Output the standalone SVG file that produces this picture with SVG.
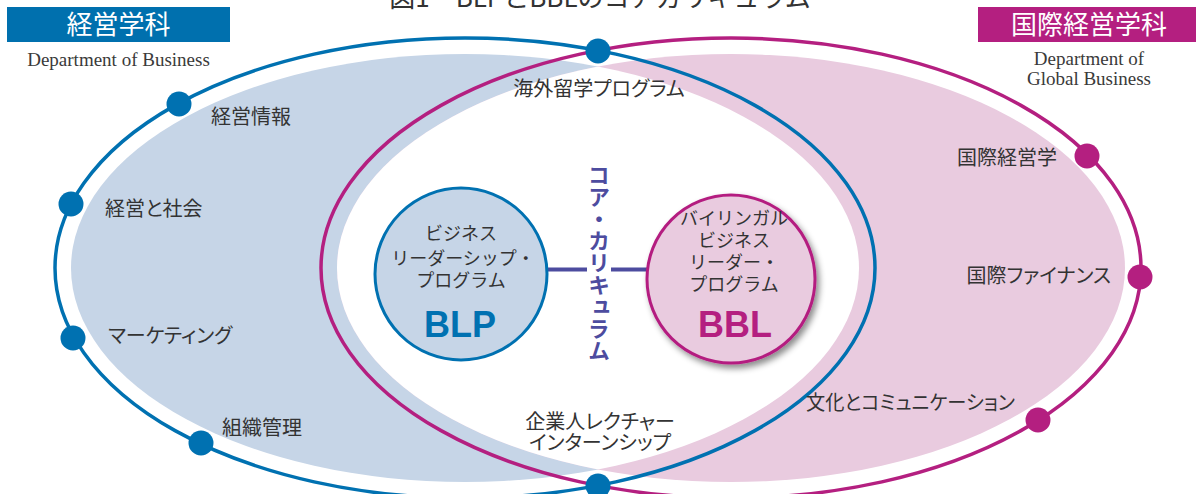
<svg xmlns="http://www.w3.org/2000/svg" width="1196" height="494" viewBox="0 0 1196 494">
<style>
.jp{font-family:"Noto Sans CJK JP",sans-serif;fill:#333}
.lbl{font-size:20px;font-feature-settings:"palt"}
.ct{font-size:18px;text-anchor:middle}
.head{font-size:26px;fill:#fff;text-anchor:middle}
.en{font-family:"Liberation Serif",serif;font-size:19px;fill:#3a3a3a;text-anchor:middle}
.big{font-family:"Liberation Sans",Arial,sans-serif;font-weight:bold;font-size:36px;text-anchor:middle}
.bdot{fill:#0071b1}
.pdot{fill:#b41f80}
</style>
<defs>
<clipPath id="clipBlueFill"><ellipse cx="465" cy="268" rx="394" ry="214"/></clipPath>
<filter id="shadow" x="-20%" y="-20%" width="150%" height="150%">
<feDropShadow dx="3" dy="4" stdDeviation="3" flood-color="#000" flood-opacity="0.45"/>
</filter>
</defs>
<rect width="1196" height="494" fill="#fff"/>
<text class="jp" x="600" y="7" font-size="26" text-anchor="middle" fill="#333">図1　BLPとBBLのコアカリキュラム</text>

<g id="fills">
<ellipse cx="465" cy="268" rx="394" ry="214" fill="#c6d5e7"/>
<ellipse cx="731" cy="268" rx="394" ry="214" fill="#e9cbdf"/>
<ellipse cx="731" cy="268" rx="394" ry="214" fill="#fff" clip-path="url(#clipBlueFill)"/>
</g>

<g id="dept-business">
<ellipse cx="465" cy="268" rx="410" ry="230" fill="none" stroke="#0071b1" stroke-width="3.5"/>
<rect x="7" y="7" width="223" height="35" fill="#0070ae"/>
<text class="jp head" x="118.5" y="33.5">経営学科</text>
<text class="en" x="118.5" y="65.5">Department of Business</text>
</g>

<g id="dept-global">
<ellipse cx="731" cy="268" rx="410" ry="230" fill="none" stroke="#b41f80" stroke-width="3.5"/>
<rect x="978" y="7" width="218" height="35" fill="#b41f80"/>
<text class="jp head" x="1089" y="33.5">国際経営学科</text>
<text class="en" x="1089" y="65">Department of</text>
<text class="en" x="1089" y="85">Global Business</text>
</g>

<g id="connectors">
<line x1="548" y1="269.5" x2="587" y2="269.5" stroke="#4d4c9f" stroke-width="4"/>
<line x1="611" y1="269.5" x2="648" y2="269.5" stroke="#4d4c9f" stroke-width="4"/>
</g>

<g id="node-keiei-joho"><circle class="bdot" cx="179" cy="104" r="12.5"/><text class="jp lbl" x="211" y="123.5">経営情報</text></g>
<g id="node-keiei-shakai"><circle class="bdot" cx="71" cy="204" r="12.5"/><text class="jp lbl" x="105" y="215.5">経営と社会</text></g>
<g id="node-marketing"><circle class="bdot" cx="73" cy="338" r="12.5"/><text class="jp lbl" x="108" y="342.5">マーケティング</text></g>
<g id="node-soshiki"><circle class="bdot" cx="201" cy="443" r="12.5"/><text class="jp lbl" x="222" y="434.5">組織管理</text></g>
<g id="node-kaigai"><circle class="bdot" cx="598" cy="51" r="12.5"/><text class="jp lbl" x="599" y="95.5" text-anchor="middle">海外留学プログラム</text></g>
<g id="node-kigyo"><circle class="bdot" cx="598" cy="486" r="12.5"/><text class="jp lbl" x="600" y="429" text-anchor="middle">企業人レクチャー</text><text class="jp lbl" x="600" y="449.5" text-anchor="middle">インターンシップ</text></g>
<g id="node-kokusai-keiei"><circle class="pdot" cx="1087" cy="156" r="12.5"/><text class="jp lbl" x="1057" y="164.5" text-anchor="end">国際経営学</text></g>
<g id="node-finance"><circle class="pdot" cx="1140" cy="277" r="12.5"/><text class="jp lbl" x="1111" y="282.5" text-anchor="end">国際ファイナンス</text></g>
<g id="node-bunka"><circle class="pdot" cx="1038" cy="420" r="12.5"/><text class="jp lbl" x="806" y="409.5" textLength="209" lengthAdjust="spacingAndGlyphs">文化とコミュニケーション</text></g>

<g id="node-blp">
<circle cx="461" cy="274" r="86" fill="#c6d5e7" stroke="#0071b1" stroke-width="3"/>
<text class="jp ct" x="461" y="240">ビジネス</text>
<text class="jp ct" x="463" y="265">リーダーシップ・</text>
<text class="jp ct" x="461" y="287">プログラム</text>
<text class="big" x="460" y="337" fill="#0071b1">BLP</text>
</g>

<g id="node-bbl">
<circle cx="731" cy="279" r="84" fill="#e9cbdf" stroke="#b41f80" stroke-width="3" filter="url(#shadow)"/>
<text class="jp ct" x="734" y="225">バイリンガル</text>
<text class="jp ct" x="734" y="247">ビジネス</text>
<text class="jp ct" x="734" y="268.5">リーダー・</text>
<text class="jp ct" x="734" y="291">プログラム</text>
<text class="big" x="735" y="337" fill="#b41f80">BBL</text>
</g>

<g id="node-core">
<text x="599" y="164" style="writing-mode:vertical-rl" font-family="Noto Sans CJK JP, sans-serif" font-weight="bold" font-size="22" fill="#4d4c9f">コア・カリキュラム</text>
</g>
</svg>
